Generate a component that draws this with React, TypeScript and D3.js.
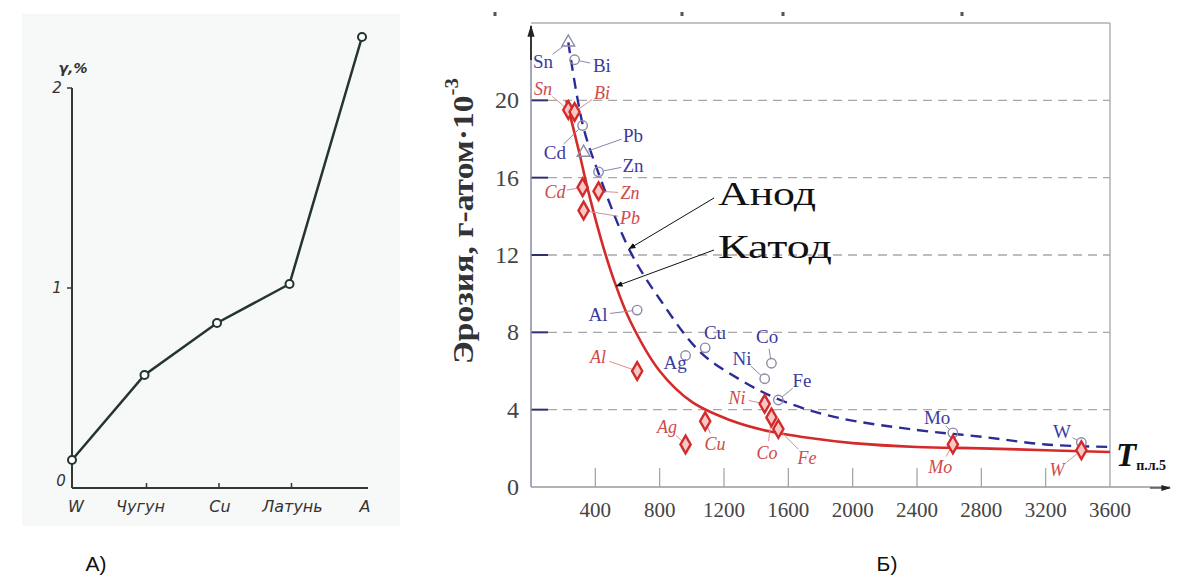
import React from "react";
import * as d3 from "d3";

// ---------- Chart A data ----------
const categoriesA = ["W", "Чугун", "Cu", "Латунь", "A"];
const valuesA = [0.14, 0.565, 0.825, 1.02, 2.255];
const yTicksA = [0, 1, 2];

// ---------- Chart B data ----------
const metals = ["Sn", "Bi", "Cd", "Pb", "Zn", "Al", "Ag", "Cu", "Ni", "Co", "Fe", "Mo", "W"];
const meltT = [232, 271, 321, 327, 420, 660, 961, 1083, 1453, 1495, 1538, 2623, 3422];
const anodeVals = [23.0, 22.1, 18.7, 17.3, 16.3, 9.15, 6.8, 7.2, 5.6, 6.4, 4.5, 2.8, 2.3];
const cathodeVals = [19.5, 19.4, 15.5, 14.3, 15.3, 6.0, 2.2, 3.4, 4.3, 3.6, 3.0, 2.2, 1.9];

// label anchors (data units)
const anodeLabelT = [75, 441, 149, 634, 634, 417, 896, 1144, 1312, 1468, 1685, 2525, 3302];
const anodeLabelV = [22.0, 21.8, 17.3, 18.2, 16.65, 8.9, 6.45, 7.97, 6.67, 7.76, 5.5, 3.6, 2.85];
const cathodeLabelT = [75, 441, 149, 616, 616, 417, 846, 1144, 1281, 1468, 1716, 2544, 3271];
const cathodeLabelV = [20.6, 20.4, 15.25, 13.9, 15.2, 6.7, 3.1, 2.2, 4.6, 1.76, 1.5, 1.03, 0.88];

const anodeCurveT = [232, 323, 417, 616, 802, 1050, 1300, 1550, 1900, 2400, 2800, 3200, 3600];
const anodeCurveV = [23.0, 18.7, 16.3, 12.2, 9.7, 7.0, 5.55, 4.5, 3.6, 2.95, 2.6, 2.2, 2.07];
const cathodeCurveT = [220, 300, 350, 450, 520, 616, 800, 1000, 1240, 1443, 1735, 2000, 2400, 2800, 3200, 3600];
const cathodeCurveV = [20.0, 17.3, 15.5, 12.4, 10.6, 8.6, 6.0, 4.4, 3.45, 2.95, 2.53, 2.27, 2.07, 2.0, 1.9, 1.81];

const xTicksB = [400, 800, 1200, 1600, 2000, 2400, 2800, 3200, 3600];
const yTicksB = [0, 4, 8, 12, 16, 20];
const triangleMetals = ["Sn", "Pb"];

export default function App() {
  // ----- scales A -----
  const xA = d3.scalePoint<string>().domain(categoriesA).range([72, 362]);
  const yA = d3.scaleLinear().domain([0, 2]).range([488, 88]);
  const lineA = d3
    .line<number>()
    .x((_, i) => xA(categoriesA[i]) as number)
    .y((d) => yA(d));

  // ----- scales B -----
  const xB = d3.scaleLinear().domain([0, 3600]).range([531, 1110]);
  const yB = d3.scaleLinear().domain([0, 24]).range([487, 23]);
  const curve = d3
    .line<[number, number]>()
    .x((d) => xB(d[0]))
    .y((d) => yB(d[1]))
    .curve(d3.curveCatmullRom.alpha(0.5));
  const anodePath = curve(anodeCurveT.map((t, i) => [t, anodeCurveV[i]]));
  const cathodePath = curve(cathodeCurveT.map((t, i) => [t, cathodeCurveV[i]]));
  const interp = (ts: number[], vs: number[], t: number) => {
    const s = d3.scaleLinear().domain(ts).range(vs);
    return s(t);
  };

  const diamond = d3.symbol().type(d3.symbolDiamond).size(90)();
  const circ = d3.symbol().type(d3.symbolCircle).size(70)();
  const tri = d3.symbol().type(d3.symbolTriangle).size(70)();

  const leader = (mx: number, my: number, lx: number, ly: number, gap: number) => {
    const dx = lx - mx, dy = ly - my;
    const d = Math.hypot(dx, dy);
    if (d < gap + 8) return null;
    const ux = dx / d, uy = dy / d;
    return [mx + ux * 5, my + uy * 5, lx - ux * gap, ly - uy * gap];
  };

  const serif = "'Liberation Serif', 'Times New Roman', serif";
  const blue = "#3b3b9e";
  const red = "#d42a2a";
  const aT = 610, cT = 530;

  return (
    <svg width={1185} height={586} style={{ position: "absolute", left: 0, top: 0, background: "#fff" }}>
      <defs>
        <marker id="arr" viewBox="0 0 10 10" refX="9" refY="5" markerWidth="7" markerHeight="7" orient="auto">
          <path d="M0,1 L10,5 L0,9 Z" fill="#111" />
        </marker>
        <marker id="arrAx" viewBox="0 0 10 10" refX="9" refY="5" markerWidth="8" markerHeight="8" orient="auto">
          <path d="M0,2 L10,5 L0,8 Z" fill="#222" />
        </marker>
      </defs>

      {/* ===== Chart A ===== */}
      <rect x={22} y={14} width={378} height={512} fill="#f7f8f8" />
      <g fontFamily="'DejaVu Sans', sans-serif" fontStyle="italic" fill="#333">
        <line x1={72} y1={yA(2)} x2={72} y2={yA(0)} stroke="#2e3a33" strokeWidth={2} />
        <line x1={72} y1={yA(0)} x2={368} y2={yA(0)} stroke="#2e3a33" strokeWidth={2} />
        {yTicksA.filter((t) => t > 0).map((t) => (
          <line key={t} x1={67} x2={72} y1={yA(t)} y2={yA(t)} stroke="#2e3a33" strokeWidth={1.5} />
        ))}
        {yTicksA.map((t) => (
          <text key={t} x={t === 0 ? 61 : 57} y={t === 0 ? yA(t) - 7 : yA(t)} fontSize={15} textAnchor="middle" dominantBaseline="central">
            {t}
          </text>
        ))}
        <text x={73} y={68} fontSize={14} fontWeight="bold" textAnchor="middle" dominantBaseline="central">γ,%</text>
        {categoriesA.slice(1, 4).map((c) => (
          <line key={c} x1={xA(c)! + 2} x2={xA(c)! + 2} y1={yA(0)} y2={yA(0) - 5} stroke="#2e3a33" strokeWidth={1.5} />
        ))}
        {categoriesA.map((c) => (
          <text key={c} x={(xA(c) as number) + (c === "W" ? 4 : c === "Чугун" ? -4 : 3)} y={506} fontSize={16} textAnchor="middle" dominantBaseline="central">
            {c}
          </text>
        ))}
        <path d={lineA(valuesA) || ""} fill="none" stroke="#24352b" strokeWidth={2.5} />
        {valuesA.map((v, i) => (
          <circle key={i} cx={xA(categoriesA[i])} cy={yA(v)} r={4} fill="#fff" stroke="#24352b" strokeWidth={2} />
        ))}
      </g>

      {/* ===== Chart B ===== */}
      <g fontFamily={serif}>
        {[495, 682, 783, 962].map((x) => (
          <rect key={x} x={x - 1.5} y={12} width={3} height={4} fill="#555" />
        ))}
        {/* frame */}
        <line x1={531} y1={23} x2={1110} y2={23} stroke="#b0b0b0" strokeWidth={1.5} />
        <line x1={1110} y1={23} x2={1110} y2={487} stroke="#b0b0b0" strokeWidth={1.5} />
        {/* grid */}
        {yTicksB.filter((t) => t > 0).map((t) => (
          <g key={t}>
            <line x1={548} x2={1110} y1={yB(t)} y2={yB(t)} stroke="#a8a8a8" strokeWidth={1.3} strokeDasharray="9,6" />
            <line x1={531} x2={548} y1={yB(t)} y2={yB(t)} stroke="#303070" strokeWidth={2} />
          </g>
        ))}
        {xTicksB.slice(0, -1).map((t) => (
          <line key={t} x1={xB(t)} x2={xB(t)} y1={487} y2={468} stroke="#a0a0a0" strokeWidth={1.2} />
        ))}
        {/* axes */}
        <line x1={531} y1={487} x2={531} y2={26} stroke="#8a8aa8" strokeWidth={1.5} />
        <line x1={531} y1={60} x2={531} y2={26} stroke="#111" strokeWidth={1.5} markerEnd="url(#arrAx)" />
        <line x1={531} y1={487} x2={1170} y2={487} stroke="#9a9a9a" strokeWidth={1.5} />
        <line x1={1150} y1={488} x2={1170} y2={488} stroke="#333" strokeWidth={1.2} markerEnd="url(#arrAx)" />
        {/* tick labels */}
        {yTicksB.map((t) => (
          <text key={t} x={519} y={yB(t)} fontSize={24} fill="#444" textAnchor="end" dominantBaseline="central">
            {t}
          </text>
        ))}
        {xTicksB.map((t) => (
          <text key={t} x={xB(t)} y={510} fontSize={21} fill="#444" textAnchor="middle" dominantBaseline="central">
            {t}
          </text>
        ))}
        {/* y title */}
        <text transform="translate(463,221) rotate(-90)" fontSize={29} fontWeight="bold" fill="#333" textAnchor="middle" dominantBaseline="central" textLength={286} lengthAdjust="spacingAndGlyphs">
          Эрозия, г-атом·10<tspan dy={-11} fontSize={18}>-3</tspan>
        </text>
        {/* T label */}
        <text x={1116} y={466} fontSize={33} fontWeight="bold" fontStyle="italic" fill="#111">
          T<tspan fontSize={14} dy={4} fontStyle="normal">п.л.5</tspan>
        </text>

        {/* curves */}
        <path d={cathodePath || ""} fill="none" stroke={red} strokeWidth={2.6} />
        <path d={anodePath || ""} fill="none" stroke="#2c2c96" strokeWidth={2.4} strokeDasharray="11,7" />

        {/* anode leaders + labels */}
        {metals.map((m, i) => {
          const mx = xB(meltT[i]), my = yB(anodeVals[i]);
          const lx = xB(anodeLabelT[i]), ly = yB(anodeLabelV[i]);
          const l = leader(mx, my, lx, ly, 12);
          return (
            <g key={"a" + m}>
              {l && <line x1={l[0]} y1={l[1]} x2={l[2]} y2={l[3]} stroke="#8888b0" strokeWidth={1} />}
              <path d={triangleMetals.includes(m) ? tri! : circ!} transform={`translate(${mx},${my})`} fill="none" stroke="#8a8aa8" strokeWidth={1.4} />
              <text x={lx} y={ly} fontSize={19} fill={blue} textAnchor="middle" dominantBaseline="central">
                {m}
              </text>
            </g>
          );
        })}
        {/* cathode leaders + labels */}
        {metals.map((m, i) => {
          const mx = xB(meltT[i]), my = yB(cathodeVals[i]);
          const lx = xB(cathodeLabelT[i]), ly = yB(cathodeLabelV[i]);
          const l = leader(mx, my, lx, ly, 12);
          return (
            <g key={"c" + m}>
              {l && <line x1={l[0]} y1={l[1]} x2={l[2]} y2={l[3]} stroke="#d89090" strokeWidth={1} />}
              <path d={diamond!} transform={`translate(${mx},${my})`} fill="#f6c8c8" stroke={red} strokeWidth={2.4} />
              <text x={lx} y={ly} fontSize={18} fontStyle="italic" fill="#cf4a4a" textAnchor="middle" dominantBaseline="central">
                {m}
              </text>
            </g>
          );
        })}

        {/* Анод / Катод annotations */}
        <line x1={714} y1={198} x2={xB(aT)} y2={yB(interp(anodeCurveT, anodeCurveV, aT))} stroke="#111" strokeWidth={1} markerEnd="url(#arr)" />
        <line x1={714} y1={250} x2={xB(cT)} y2={yB(interp(cathodeCurveT, cathodeCurveV, cT))} stroke="#111" strokeWidth={1} markerEnd="url(#arr)" />
        <text x={718} y={205} fontSize={34} fill="#111" textLength={98} lengthAdjust="spacingAndGlyphs">Анод</text>
        <text x={718} y={258} fontSize={34} fill="#111" textLength={114} lengthAdjust="spacingAndGlyphs">Катод</text>
      </g>

      {/* captions */}
      <text x={96} y={563} fontSize={21} fontFamily="'Liberation Sans Narrow', 'Liberation Sans', sans-serif" textAnchor="middle" dominantBaseline="central" fill="#111">
        А)
      </text>
      <text x={887} y={563} fontSize={21} fontFamily="'Liberation Sans Narrow', 'Liberation Sans', sans-serif" textAnchor="middle" dominantBaseline="central" fill="#111">
        Б)
      </text>
    </svg>
  );
}
